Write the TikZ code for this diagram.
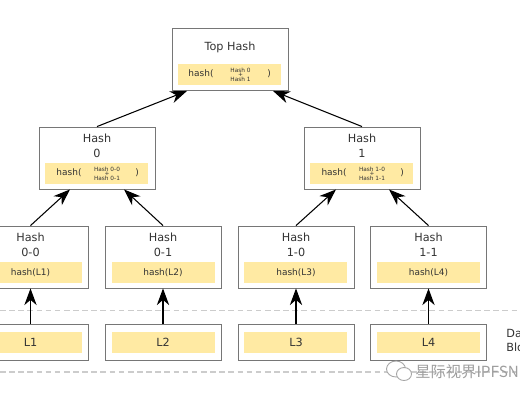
\documentclass[tikz,border=0pt]{standalone}
\usepackage{fontspec}
\setmainfont{DejaVu Sans}
\newfontfamily\cjkfont{Noto Sans CJK SC}
\usetikzlibrary{arrows.meta}
\definecolor{boxline}{HTML}{767676}
\definecolor{hashfill}{HTML}{FFEAA3}
\definecolor{inktext}{HTML}{333333}
\tikzset{
  hashbox/.style={draw=boxline,fill=white,line width=0.5pt,inner sep=0pt,minimum width=116\pxunit,minimum height=62\pxunit},
  datablock/.style={hashbox,minimum height=36\pxunit},
  yellowbar/.style={fill=hashfill,draw=none,inner sep=0pt,minimum width=103\pxunit,minimum height=21\pxunit},
  hashlabel/.style={text=inktext,inner sep=0pt,align=center,font=\fontsize{6.4}{8.5}\selectfont},
  calllabel/.style={text=inktext,inner sep=0pt,align=center,font=\fontsize{5.1}{7}\selectfont},
  tinylabel/.style={text=inktext,inner sep=0pt,align=center,font=\fontsize{3.3}{5}\selectfont},
  hasharrow/.style={draw=black,line width=0.6pt,-{Stealth[length=9.5pt,width=7pt,inset=3pt]}},
  cutline/.style={draw=black!20,line width=0.6pt,dash pattern=on 3.2pt off 2pt},
}
\newcommand{\pxunit}{*0.02cm}
\begin{document}
\begin{tikzpicture}[x=0.02cm,y=-0.02cm]
\useasboundingbox (0,0) rectangle (520,400);
\path[fill=white] (0,0) rectangle (520,400);
% dashed band round the data row
\path[cutline] (0,310.5) -- (520,310.5);
\path[cutline] (0,372) -- (520,372);
% top of the tree
\node[hashbox] (top) at (230,59.5) {};
\node[yellowbar] (top-bar) at (229,74.5) {};
\node[hashlabel] (top-title) at (230,47) {Top Hash};
\node[calllabel] (top-open) at (201,74) {hash(};
\node[tinylabel] (top-a) at (240.5,70) {Hash 0};
\node[tinylabel] (top-plus) at (240.5,74.5) {+};
\node[tinylabel] (top-b) at (240.5,79) {Hash 1};
\node[calllabel] (top-close) at (269,74) {)};
% second level
\node[hashbox] (hash-0) at (97,158) {};
\node[yellowbar] (hash-0-bar) at (96.5,173) {};
\node[hashlabel] (hash-0-title) at (97,145.5) {Hash\\0};
\node[calllabel] (hash-0-open) at (69,173) {hash(};
\node[tinylabel] (hash-0-a) at (107,169) {Hash 0-0};
\node[tinylabel] (hash-0-plus) at (107,173.5) {+};
\node[tinylabel] (hash-0-b) at (107,178) {Hash 0-1};
\node[calllabel] (hash-0-close) at (137,173) {)};
\node[hashbox] (hash-1) at (362,158) {};
\node[yellowbar] (hash-1-bar) at (361.5,173) {};
\node[hashlabel] (hash-1-title) at (362,145.5) {Hash\\1};
\node[calllabel] (hash-1-open) at (334,173) {hash(};
\node[tinylabel] (hash-1-a) at (372,169) {Hash 1-0};
\node[tinylabel] (hash-1-plus) at (372,173.5) {+};
\node[tinylabel] (hash-1-b) at (372,178) {Hash 1-1};
\node[calllabel] (hash-1-close) at (402,173) {)};
% third level
\node[hashbox] (hash-0-0) at (30.5,257) {};
\node[yellowbar] (hash-0-0-bar) at (30,272) {};
\node[hashlabel] (hash-0-0-title) at (30.5,244.5) {Hash\\0-0};
\node[calllabel] (hash-0-0-text) at (30.5,273) {hash(L1)};
\node[hashbox] (hash-0-1) at (163,257) {};
\node[yellowbar] (hash-0-1-bar) at (163,272) {};
\node[hashlabel] (hash-0-1-title) at (163,244.5) {Hash\\0-1};
\node[calllabel] (hash-0-1-text) at (163,273) {hash(L2)};
\node[hashbox] (hash-1-0) at (296,257) {};
\node[yellowbar] (hash-1-0-bar) at (295.5,272) {};
\node[hashlabel] (hash-1-0-title) at (296,244.5) {Hash\\1-0};
\node[calllabel] (hash-1-0-text) at (296,273) {hash(L3)};
\node[hashbox] (hash-1-1) at (428.5,257) {};
\node[yellowbar] (hash-1-1-bar) at (428,272) {};
\node[hashlabel] (hash-1-1-title) at (428.5,244.5) {Hash\\1-1};
\node[calllabel] (hash-1-1-text) at (428.5,273) {hash(L4)};
% data row
\node[datablock] (block-1) at (30.5,342) {};
\node[yellowbar] (block-1-bar) at (30,342.5) {};
\node[hashlabel] (block-1-text) at (30.5,342) {L1};
\node[datablock] (block-2) at (163,342) {};
\node[yellowbar] (block-2-bar) at (163,342.5) {};
\node[hashlabel] (block-2-text) at (163,342) {L2};
\node[datablock] (block-3) at (296,342) {};
\node[yellowbar] (block-3-bar) at (295.5,342.5) {};
\node[hashlabel] (block-3-text) at (296,342) {L3};
\node[datablock] (block-4) at (428.5,342) {};
\node[yellowbar] (block-4-bar) at (428,342.5) {};
\node[hashlabel] (block-4-text) at (428.5,342) {L4};
\node[hashlabel,anchor=west,align=left] (data-title) at (506,340.5) {Data\\Blocks};
% connectors
\draw[hasharrow] (hash-0.north) -- ([xshift=-43\pxunit]top.south);
\draw[hasharrow] (hash-1.north) -- ([xshift=43\pxunit]top.south);
\draw[hasharrow] (hash-0-0.north) -- ([xshift=-27\pxunit]hash-0.south);
\draw[hasharrow] (hash-0-1.north) -- ([xshift=27\pxunit]hash-0.south);
\draw[hasharrow] (hash-1-0.north) -- ([xshift=-26\pxunit]hash-1.south);
\draw[hasharrow] (hash-1-1.north) -- ([xshift=27\pxunit]hash-1.south);
\draw[hasharrow] (block-1.north) -- (hash-0-0.south);
\draw[hasharrow] (block-2.north) -- (hash-0-1.south);
\draw[hasharrow] (block-3.north) -- (hash-1-0.south);
\draw[hasharrow] (block-4.north) -- (hash-1-1.south);
% mark in the corner
\path[draw=black!35,fill=white,line width=0.5pt] (396,369) ellipse (9.5 and 8);
\path[draw=black!35,fill=white,line width=0.5pt] (404,374) ellipse (7.5 and 6.5);
\node[text=black!38,inner sep=0pt,anchor=west,font=\cjkfont\fontsize{8.7}{10}\selectfont] (mark-text) at (415,372) {星际视界IPFSN};
\end{tikzpicture}
\end{document}
